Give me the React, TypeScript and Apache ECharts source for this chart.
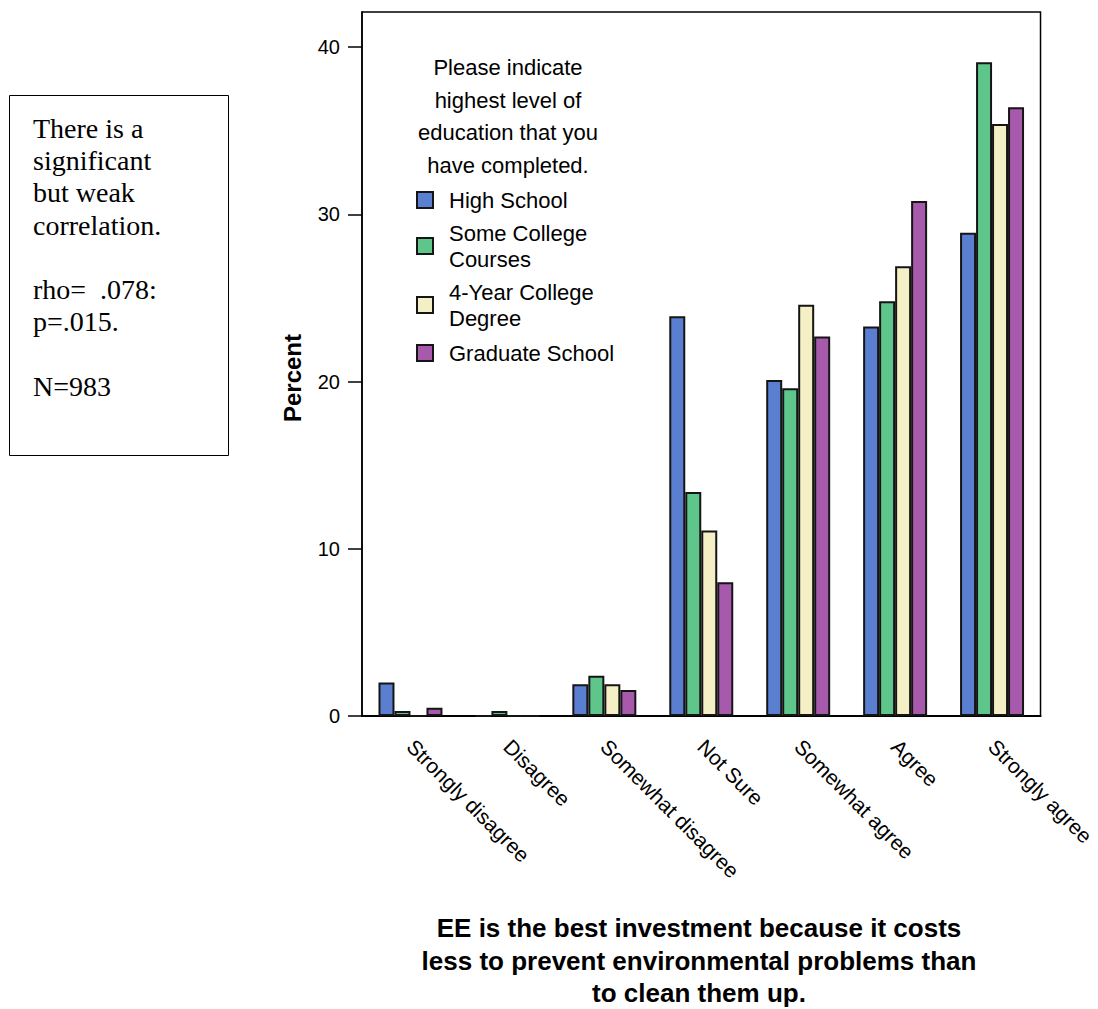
import React, { useEffect, useRef } from "react";
import * as echarts from "echarts";

const categories = [
  "Strongly disagree",
  "Disagree",
  "Somewhat disagree",
  "Not Sure",
  "Somewhat agree",
  "Agree",
  "Strongly agree",
];

const seriesNames = ["High School", "Some College Courses", "4-Year College Degree", "Graduate School"];
const legendLabels = ["High School", "Some College\nCourses", "4-Year College\nDegree", "Graduate School"];

const highSchool = [2.0, 0, 1.9, 23.9, 20.1, 23.3, 28.9];
const someCollege = [0.3, 0.3, 2.4, 13.4, 19.6, 24.8, 39.1];
const fourYear = [0, 0, 1.9, 11.1, 24.6, 26.9, 35.4];
const graduate = [0.5, 0, 1.55, 8.0, 22.7, 30.8, 36.4];

const yTicks = [0, 10, 20, 30, 40];

const legendTitle = "Please indicate\nhighest level of\neducation that you\nhave completed.";
const xTitle = "EE is the best investment because it costs\nless to prevent environmental problems than\nto clean them up.";
const yTitle = "Percent";
const noteText = "There is a\nsignificant\nbut weak\ncorrelation.\n\nrho=  .078:\np=.015.\n\nN=983";

const colors = ["#5b7fd0", "#5ec68a", "#f4efc4", "#a75aab"];
const SANS = "'Liberation Sans', Arial, sans-serif";
const SERIF = "'Liberation Serif', 'Times New Roman', serif";

export default function App() {
  const ref = useRef<HTMLDivElement>(null);
  useEffect(() => {
    if (!ref.current) return;
    const chart = echarts.init(ref.current, undefined, { renderer: "svg" });
    const values = [highSchool, someCollege, fourYear, graduate];
    const legendTops = [187, 220, 279, 340];
    chart.setOption({
      animation: false,
      backgroundColor: "#fff",
      grid: {
        left: 362,
        top: 12,
        width: 681,
        height: 704,
        show: true,
        borderColor: "#000",
        borderWidth: 1.5,
        containLabel: false,
      },
      legend: seriesNames.map((n, i) => ({
        data: [n],
        left: 416,
        top: legendTops[i],
        padding: 0,
        itemWidth: 16,
        itemHeight: 16,
        icon: "rect",
        selectedMode: false,
        formatter: () => legendLabels[i],
        textStyle: {
          fontFamily: SANS,
          fontSize: 22,
          lineHeight: 26,
          color: "#000",
          padding: [0, 0, 0, 11],
        },
      })),
      xAxis: {
        type: "category",
        data: categories,
        axisLine: { lineStyle: { color: "#000", width: 2 } },
        axisTick: { alignWithLabel: true, length: 16, lineStyle: { color: "#000", width: 2 } },
        axisLabel: {
          rotate: -45,
          interval: 0,
          margin: 27,
          fontFamily: SANS,
          fontSize: 21,
          color: "#000",
        },
      },
      yAxis: {
        type: "value",
        min: 0,
        max: 42.1,
        interval: 10,
        splitLine: { show: false },
        axisLine: { show: true, lineStyle: { color: "#000", width: 1.5 } },
        axisTick: { show: true, length: 14, customValues: yTicks, lineStyle: { color: "#000", width: 1.5 } },
        axisLabel: {
          customValues: yTicks,
          margin: 22,
          fontFamily: SANS,
          fontSize: 20,
          color: "#000",
        },
      },
      series: seriesNames.map((n, i) => ({
        name: n,
        type: "bar",
        data: values[i],
        barGap: "0%",
        barCategoryGap: "34%",
        itemStyle: { color: colors[i], borderColor: "#151515", borderWidth: 2 },
      })),
      graphic: [
        {
          type: "rect",
          shape: { x: 9.5, y: 95.5, width: 219, height: 360 },
          style: { fill: "none", stroke: "#000", lineWidth: 1 },
        },
        {
          type: "text",
          x: 33,
          y: 112,
          style: {
            text: noteText,
            font: `28px ${SERIF}`,
            lineHeight: 32.3,
            fill: "#000",
            textAlign: "left",
            textVerticalAlign: "top",
          },
        },
        {
          type: "text",
          x: 508,
          y: 51,
          style: {
            text: legendTitle,
            font: `22px ${SANS}`,
            lineHeight: 32.7,
            fill: "#000",
            textAlign: "center",
            textVerticalAlign: "top",
          },
        },
        {
          type: "text",
          x: 292,
          y: 378,
          rotation: Math.PI / 2,
          style: {
            text: yTitle,
            font: `bold 24px ${SANS}`,
            fill: "#000",
            textAlign: "center",
            textVerticalAlign: "middle",
          },
        },
        {
          type: "text",
          x: 699,
          y: 912,
          style: {
            text: xTitle,
            font: `bold 26px ${SANS}`,
            lineHeight: 32.5,
            fill: "#000",
            textAlign: "center",
            textVerticalAlign: "top",
          },
        },
      ],
    });
    return () => chart.dispose();
  }, []);
  return (
    <div
      ref={ref}
      style={{ position: "absolute", left: 0, top: 0, width: 1098, height: 1009 }}
    />
  );
}
